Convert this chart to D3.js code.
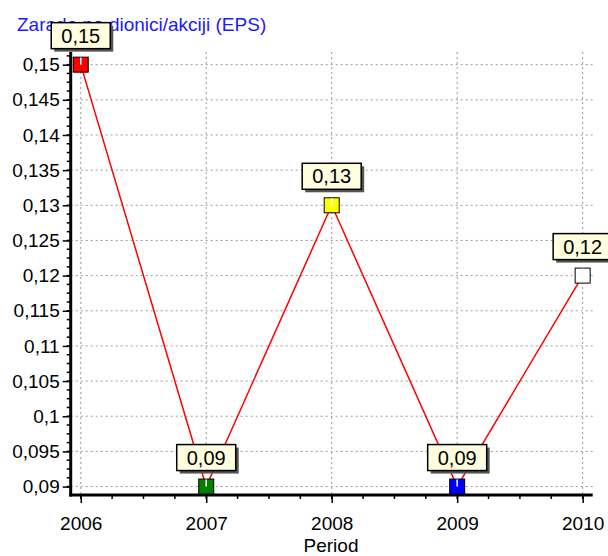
<!DOCTYPE html>
<html>
<head>
<meta charset="utf-8">
<script src="https://cdn.jsdelivr.net/npm/d3@7"></script>
<style>
    body { margin: 0; background: #fff; }
    svg text { font-family: "Liberation Sans", Arial, sans-serif; }
    .grid line { stroke: #999; stroke-width: 1; stroke-dasharray: 2, 3; }
</style>
</head>
<body>
<svg id="chart" width="608" height="556"></svg>
<script>
    // data
    const years = [2006, 2007, 2008, 2009, 2010];
    const eps = [0.15, 0.09, 0.13, 0.09, 0.12];
    const markerColors = ["#ff0000", "#008000", "#ffff00", "#0000ff", "#ffffff"];
    const yTickValues = [0.09, 0.095, 0.1, 0.105, 0.11, 0.115, 0.12, 0.125, 0.13, 0.135, 0.14, 0.145, 0.15];
    const titleText = "Zarada po dionici/akciji (EPS)";
    const xTitle = "Period";

    const svg = d3.select("#chart");
    const locale = d3.formatLocale({ decimal: ",", thousands: ".", grouping: [3], currency: ["", ""] });
    const fmt = locale.format(".3~f");

    const plotLeft = 70.7, plotRight = 592.7, plotTop = 52, plotBottom = 495;
    const x = d3.scaleLinear().domain([2005.92, 2010.08]).range([plotLeft, plotRight]);
    const y = d3.scaleLinear().domain([0.0888, 0.1518]).range([plotBottom, plotTop]);

    const points = years.map((yr, i) => ({ year: yr, value: eps[i], color: markerColors[i] }));

    // grid
    const grid = svg.append("g").attr("class", "grid");
    grid.selectAll(".h").data(yTickValues).enter().append("line")
        .attr("x1", plotLeft).attr("x2", plotRight)
        .attr("y1", d => y(d)).attr("y2", d => y(d));
    grid.selectAll(".v").data(years).enter().append("line")
        .attr("x1", d => x(d)).attr("x2", d => x(d))
        .attr("y1", plotTop).attr("y2", plotBottom);

    // minor ticks
    const yMinor = d3.range(0.08875, 0.1518, 0.00125).filter(v => v >= y.domain()[0]);
    svg.append("g").selectAll("line").data(yMinor).enter().append("line")
        .attr("x1", plotLeft - 4).attr("x2", plotLeft)
        .attr("y1", d => y(d)).attr("y2", d => y(d))
        .attr("stroke", "#000").attr("stroke-width", 1.5);
    const xMinor = d3.range(2006, 2010.01, 0.25);
    svg.append("g").selectAll("line").data(xMinor).enter().append("line")
        .attr("x1", d => x(d)).attr("x2", d => x(d))
        .attr("y1", plotBottom).attr("y2", plotBottom + 4)
        .attr("stroke", "#000").attr("stroke-width", 1.5);

    // axes
    const yAxis = svg.append("g").attr("transform", `translate(${plotLeft},0)`)
        .call(d3.axisLeft(y).tickValues(yTickValues).tickFormat(fmt).tickSize(8).tickPadding(3));
    yAxis.select(".domain").remove();
    yAxis.selectAll(".tick line").attr("stroke-width", 1.5);
    yAxis.selectAll("text").attr("font-size", 19).attr("fill", "#000")
        .style("font-family", "'Liberation Sans', Arial, sans-serif");

    const xAxis = svg.append("g").attr("transform", `translate(0,${plotBottom})`)
        .call(d3.axisBottom(x).tickValues(years).tickFormat(d3.format("d")).tickSize(8).tickPadding(14));
    xAxis.select(".domain").remove();
    xAxis.selectAll(".tick line").attr("stroke-width", 1.5);
    xAxis.selectAll("text").attr("font-size", 19).attr("fill", "#000")
        .style("font-family", "'Liberation Sans', Arial, sans-serif");

    svg.append("line").attr("x1", plotLeft).attr("x2", plotLeft).attr("y1", plotTop).attr("y2", plotBottom + 1.5)
        .attr("stroke", "#000").attr("stroke-width", 3);
    svg.append("line").attr("x1", plotLeft - 1.5).attr("x2", plotRight).attr("y1", plotBottom).attr("y2", plotBottom)
        .attr("stroke", "#000").attr("stroke-width", 3);

    // titles
    svg.append("text").attr("x", 17).attr("y", 31).attr("font-size", 19)
        .attr("fill", "#1a1aff").text(titleText);
    svg.append("text").attr("x", 331).attr("y", 552).attr("font-size", 19)
        .attr("text-anchor", "middle").attr("fill", "#000").text(xTitle);

    // line
    svg.append("path").datum(points)
        .attr("fill", "none").attr("stroke", "#ff0000").attr("stroke-width", 1.5)
        .attr("d", d3.line().x(d => x(d.year)).y(d => y(d.value)));

    // labels
    const bw = 59, bh = 26;
    const lab = svg.append("g").selectAll("g").data(points).enter().append("g")
        .attr("transform", d => `translate(${x(d.year)},${y(d.value)})`);
    lab.append("line").attr("x1", 0).attr("x2", 0).attr("y1", -16).attr("y2", 0)
        .attr("stroke", "#fff").attr("stroke-width", 2);
    lab.append("rect").attr("x", -bw / 2 + 3).attr("y", -16 - bh + 3).attr("width", bw).attr("height", bh)
        .attr("fill", "#555");
    lab.append("rect").attr("x", -bw / 2).attr("y", -16 - bh).attr("width", bw).attr("height", bh)
        .attr("fill", "#ffffe0").attr("stroke", "#000").attr("stroke-width", 1.5);
    lab.append("text").attr("x", 0).attr("y", -16 - 6).attr("text-anchor", "middle")
        .attr("font-size", 20).attr("fill", "#000").text(d => fmt(d.value));

    // markers
    const mk = svg.append("g").selectAll("g").data(points).enter().append("g")
        .attr("transform", d => `translate(${x(d.year)},${y(d.value)})`);
    mk.append("rect").attr("x", -7.5).attr("y", -7.5).attr("width", 15).attr("height", 15)
        .attr("fill", d => d.color).attr("stroke", "#000").attr("stroke-width", 1);
    mk.append("line").attr("x1", 0).attr("x2", 0).attr("y1", -7).attr("y2", 0)
        .attr("stroke", "#fff").attr("stroke-width", 1.5);
</script>
</body>
</html>
